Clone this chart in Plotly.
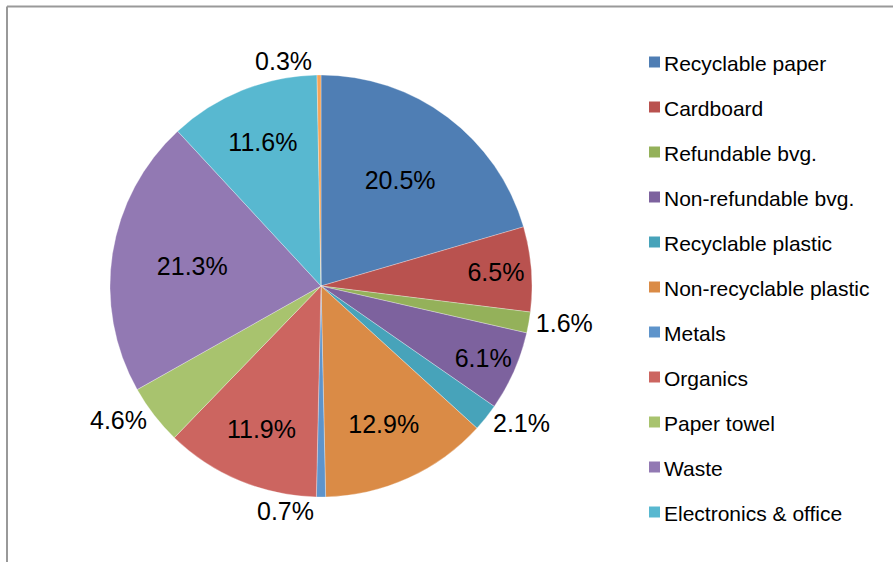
import plotly.graph_objects as go

categories = ["Recyclable paper", "Cardboard", "Refundable bvg.", "Non-refundable bvg.",
              "Recyclable plastic", "Non-recyclable plastic", "Metals", "Organics",
              "Paper towel", "Waste", "Electronics & office", "Other"]
values = [20.5, 6.5, 1.6, 6.1, 2.1, 12.9, 0.7, 11.9, 4.6, 21.3, 11.6, 0.3]
colors = ["#4F7EB4", "#B9524F", "#94B15A", "#7D629E", "#47A3BA", "#DA8B46",
          "#5E94CB", "#CC6560", "#A8C36E", "#9279B3", "#58B8D0", "#F6A458"]
legend_items = categories[:11]

W, H = 893, 562
cx, cy, r = 321, 286, 211
FONT = "Liberation Sans, Arial"

text_pos = ["inside", "inside", "outside", "inside", "outside", "inside",
            "outside", "inside", "outside", "inside", "inside", "outside"]

fig = go.Figure()
fig.add_trace(go.Pie(
    labels=categories, values=values, sort=False, direction="clockwise",
    rotation=0,
    marker=dict(colors=colors, line=dict(color="white", width=0.3)),
    texttemplate="%{value:.1f}%", textposition=text_pos,
    insidetextorientation="horizontal",
    textfont=dict(family=FONT, size=25, color="black"),
    outsidetextfont=dict(family=FONT, size=25, color="black"),
    insidetextfont=dict(family=FONT, size=25, color="black"),
    domain=dict(x=[(cx - r) / W, (cx + r) / W], y=[1 - (cy + r) / H, 1 - (cy - r) / H]),
    showlegend=False, hoverinfo="label+value",
))

shapes = [
    dict(type="line", xref="paper", yref="paper", x0=7 / W, x1=1.01, y0=1 - 6.5 / H, y1=1 - 6.5 / H,
         line=dict(color="#999999", width=2)),
    dict(type="line", xref="paper", yref="paper", x0=7 / W, x1=7 / W, y0=1 - 6.5 / H, y1=-0.01,
         line=dict(color="#999999", width=2)),
]
annotations = []
y0, step = 62, 45
for i, name in enumerate(legend_items):
    yc = y0 + i * step
    shapes.append(dict(type="rect", xref="paper", yref="paper",
                       x0=649 / W, x1=660 / W, y0=1 - (yc + 5.5) / H, y1=1 - (yc - 5.5) / H,
                       fillcolor=colors[i], line=dict(width=0)))
    annotations.append(dict(text=name, xref="paper", yref="paper", x=662 / W, y=1 - (yc + 1) / H,
                            xanchor="left", yanchor="middle", showarrow=False,
                            font=dict(family=FONT, size=21, color="black")))

fig.update_layout(
    width=W, height=H, margin=dict(l=0, r=0, t=0, b=0),
    paper_bgcolor="white", plot_bgcolor="white",
    shapes=shapes, annotations=annotations,
)
fig.write_html("out.html")
